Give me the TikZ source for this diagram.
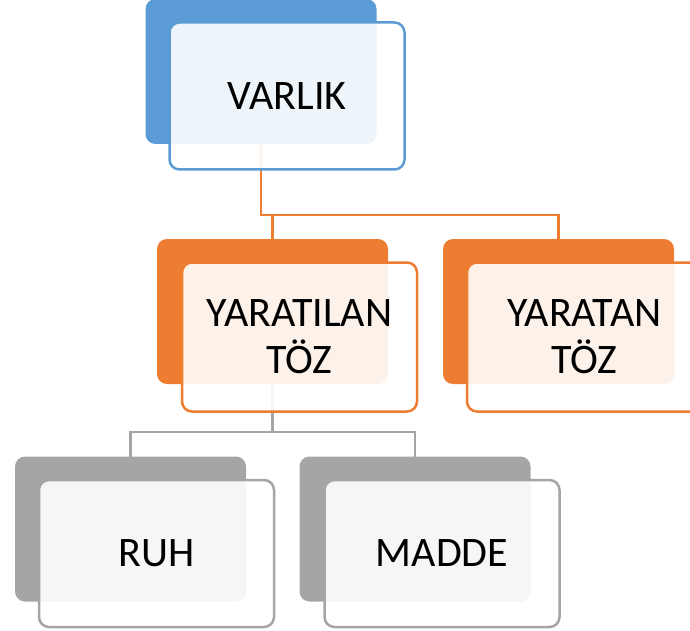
\documentclass[tikz,border=0pt]{standalone}
\usepackage{fontspec}
\setmainfont{Carlito}
\definecolor{cblue}{HTML}{5B9BD5}
\definecolor{corange}{HTML}{ED7D31}
\definecolor{cgray}{HTML}{A5A5A5}
\begin{document}
\begin{tikzpicture}[x=1pt,y=-1pt,
  backbox/.style={draw=none,fill=#1,rounded corners=10pt,minimum width=231pt,minimum height=145pt,inner sep=0pt,outer sep=0pt},
  frontbox/.style={draw=#1,line width=2.5pt,fill=white,fill opacity=0.9,text opacity=1,rounded corners=10pt,minimum width=235pt,minimum height=147pt,inner sep=0pt,outer sep=0pt,align=center,font=\fontsize{42}{47}\selectfont},
  conn/.style={draw=#1,line width=2.6pt}]
\useasboundingbox (0,0) rectangle (690,631);
\clip (0,0) rectangle (690,631);
% back boxes
\node[backbox=cblue]   (Vb) at (261,71.5) {};
\node[backbox=corange] (Lb) at (272.5,311.5) {};
\node[backbox=corange] (Nb) at (558.5,311.5) {};
\node[backbox=cgray]   (Rb) at (130.5,529) {};
\node[backbox=cgray]   (Mb) at (415,529) {};
% bus coordinates
\coordinate (obus) at (0,215);
\coordinate (gbus) at (0,432);
% connectors
\draw[conn=corange] (Vb.south) -- (Vb.south |- obus) -| (Lb.north);
\draw[conn=corange] (Vb.south |- obus) -| (Nb.north);
\draw[conn=cgray] (Lb.south) -- (Lb.south |- gbus) -| (Rb.north);
\draw[conn=cgray] (Lb.south |- gbus) -| (Mb.north);
% front boxes
\node[frontbox=cblue]   (Vf) at (287,96) {VARLIK};
\node[frontbox=corange, minimum height=149pt] (Lf) at (299.5,337) {YARATILAN\\TÖZ};
\node[frontbox=corange, minimum height=149pt] (Nf) at (584.5,337) {YARATAN\\TÖZ};
\node[frontbox=cgray]   (Rf) at (156.5,553.5) {RUH};
\node[frontbox=cgray]   (Mf) at (442,553.5) {MADDE};
\end{tikzpicture}
\end{document}
